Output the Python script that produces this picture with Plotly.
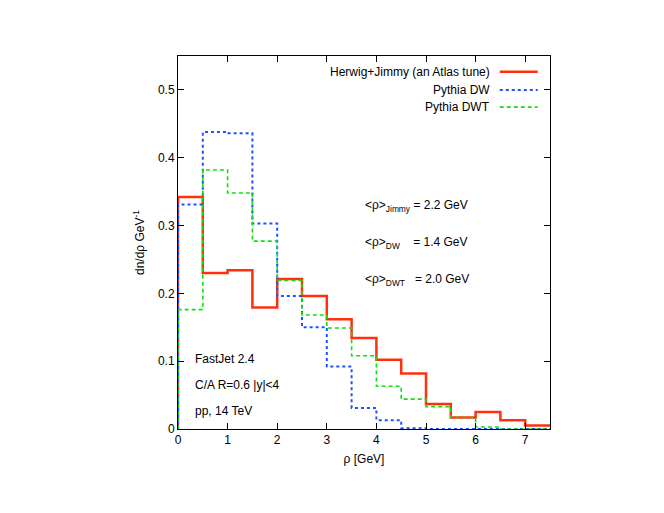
import plotly.graph_objects as go

bin_edges = [0.0, 0.5, 1.0, 1.5, 2.0, 2.5, 3.0, 3.5, 4.0, 4.5, 5.0, 5.5, 6.0, 6.5, 7.0, 7.5]
herwig = [0.342, 0.230, 0.234, 0.179, 0.221, 0.196, 0.162, 0.134, 0.102, 0.082, 0.037, 0.017, 0.025, 0.013, 0.005]
pythia_dw = [0.331, 0.438, 0.436, 0.303, 0.196, 0.150, 0.092, 0.031, 0.013, 0.001, 0.0, 0.0, 0.0, 0.0, 0.0]
pythia_dwt = [0.176, 0.382, 0.348, 0.277, 0.219, 0.168, 0.149, 0.108, 0.063, 0.044, 0.033, 0.017, 0.003, 0.0, 0.0]

x_ticks = [0, 1, 2, 3, 4, 5, 6, 7]
y_ticks = [0, 0.1, 0.2, 0.3, 0.4, 0.5]

series = [
    ("Herwig+Jimmy (an Atlas tune)", herwig, "#ff3010", "solid", 2.5),
    ("Pythia DW", pythia_dw, "#2050ff", "dot", 2),
    ("Pythia DWT", pythia_dwt, "#10e010", "4px,3px", 1.6),
]

FONT = "Liberation Sans, Arial, Helvetica, sans-serif"

fig = go.Figure()
for name, vals, color, dash, w in series:
    xs = [bin_edges[0]] + bin_edges[:-1] + [bin_edges[-1]]
    ys = [0.0] + vals + [vals[-1]]
    fig.add_trace(go.Scatter(x=xs, y=ys, mode="lines", line_shape="hv", name=name,
                             line=dict(color=color, dash=dash, width=w), showlegend=False))

axis_common = dict(showline=True, linecolor="black", linewidth=1, mirror="ticks",
                   ticks="inside", ticklen=6, tickcolor="black", showgrid=False,
                   zeroline=False, tickfont=dict(family=FONT, size=12, color="black"))

fig.update_xaxes(range=[0, 7.5], tickvals=x_ticks, ticktext=[str(t) for t in x_ticks],
                 title=dict(text="ρ [GeV]", font=dict(family=FONT, size=12, color="black"), standoff=8),
                 **axis_common)
fig.update_yaxes(range=[0, 0.55], tickvals=y_ticks, ticktext=["0", "0.1", "0.2", "0.3", "0.4", "0.5"],
                 title=dict(text="dn/dρ GeV<sup>-1</sup>", font=dict(family=FONT, size=12, color="black"), standoff=10),
                 **axis_common)

# legend (gnuplot style: text right-aligned, sample to the right)
leg_y = [0.958, 0.909, 0.863]
for (name, vals, color, dash, w), yy in zip(series, leg_y):
    fig.add_annotation(xref="paper", yref="paper", x=0.845, y=yy, text=name, showarrow=False,
                       xanchor="right", yanchor="middle", font=dict(family=FONT, size=12, color="black"))
    fig.add_shape(type="line", xref="paper", yref="paper", x0=0.865, x1=0.967, y0=yy, y1=yy,
                  line=dict(color=color, dash=dash, width=w))

notes = ["&lt;ρ&gt;<sub>Jimmy</sub> = 2.2 GeV", "&lt;ρ&gt;<sub>DW</sub>    = 1.4 GeV",
         "&lt;ρ&gt;<sub>DWT</sub>   = 2.0 GeV"]
for txt, yy in zip(notes, [0.598, 0.498, 0.399]):
    fig.add_annotation(xref="paper", yref="paper", x=0.497, y=yy, text=txt, showarrow=False,
                       xanchor="left", yanchor="middle", font=dict(family=FONT, size=12, color="black"))

info = ["FastJet 2.4", "C/A R=0.6 |y|&lt;4", "pp, 14 TeV"]
for txt, yy in zip(info, [0.188, 0.118, 0.048]):
    fig.add_annotation(xref="paper", yref="paper", x=0.04, y=yy, text=txt, showarrow=False,
                       xanchor="left", yanchor="middle", font=dict(family=FONT, size=12, color="black"))

fig.update_layout(width=664, height=513, margin=dict(l=170, r=122, t=48, b=92),
                  paper_bgcolor="white", plot_bgcolor="white",
                  font=dict(family=FONT, size=12, color="black"))

fig.write_html("out.html")
